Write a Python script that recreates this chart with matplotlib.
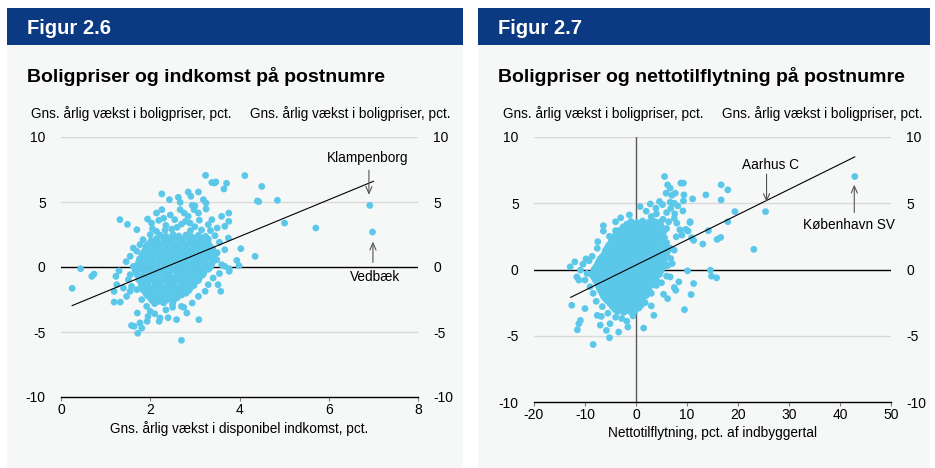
import matplotlib.pyplot as plt
from matplotlib.patches import Rectangle

plt.rcParams['font.family'] = ['Liberation Sans', 'DejaVu Sans']
plt.rcParams['axes.unicode_minus'] = False

# ============================================================
# Data: Figur 2.6  (x = indkomstvaekst, y = boligprisvaekst)
# ============================================================
core_26 = [
    (2.22, 2.45), (2.36, 2.35), (2.51, 2.5), (2.64, 2.38), (2.8, 2.46), (2.93, 2.33), (3.08, 2.44), (3.24, 2.36),
    (2.02, 2.02), (2.16, 1.95), (2.31, 2.06), (2.45, 1.98), (2.6, 2.04), (2.74, 1.94), (2.9, 2.05), (3.04, 1.97), (3.19, 2.03),
    (1.91, 1.62), (2.06, 1.55), (2.2, 1.66), (2.35, 1.58), (2.5, 1.63), (2.64, 1.54), (2.79, 1.65), (2.95, 1.57), (3.09, 1.64), (3.24, 1.56),
    (1.86, 1.18), (2.0, 1.24), (2.15, 1.15), (2.3, 1.22), (2.44, 1.17), (2.6, 1.25), (2.74, 1.16), (2.9, 1.23), (3.04, 1.14), (3.2, 1.21), (3.34, 1.18),
    (1.81, 0.82), (1.95, 0.76), (2.1, 0.85), (2.25, 0.78), (2.4, 0.83), (2.55, 0.75), (2.7, 0.84), (2.85, 0.77), (3.0, 0.82), (3.15, 0.76), (3.3, 0.84),
    (1.74, 0.38), (1.9, 0.44), (2.04, 0.35), (2.2, 0.42), (2.34, 0.37), (2.5, 0.45), (2.64, 0.36), (2.8, 0.43), (2.95, 0.38), (3.1, 0.44), (3.25, 0.36), (3.4, 0.41),
    (1.7, 0.03), (1.84, -0.04), (2.0, 0.05), (2.14, -0.02), (2.3, 0.04), (2.44, -0.05), (2.6, 0.02), (2.74, -0.03), (2.9, 0.05), (3.04, -0.04), (3.2, 0.03), (3.35, -0.02),
    (1.69, -0.42), (1.85, -0.36), (1.99, -0.45), (2.15, -0.38), (2.3, -0.43), (2.44, -0.35), (2.6, -0.44), (2.75, -0.37), (2.9, -0.42), (3.05, -0.36), (3.2, -0.44),
    (1.75, -0.78), (1.9, -0.84), (2.05, -0.76), (2.2, -0.83), (2.35, -0.77), (2.5, -0.85), (2.65, -0.79), (2.8, -0.82), (2.95, -0.76), (3.1, -0.84),
    (1.8, -1.22), (1.95, -1.16), (2.1, -1.25), (2.25, -1.18), (2.4, -1.23), (2.55, -1.15), (2.7, -1.24), (2.85, -1.17), (3.0, -1.21),
    (1.86, -1.58), (2.0, -1.65), (2.15, -1.56), (2.3, -1.63), (2.45, -1.57), (2.6, -1.64), (2.75, -1.55), (2.9, -1.62),
    (1.9, -2.03), (2.05, -1.96), (2.2, -2.05), (2.35, -1.98), (2.5, -2.04), (2.65, -1.95), (2.8, -2.02),
    (2.0, -2.38), (2.15, -2.45), (2.3, -2.36), (2.45, -2.43), (2.6, -2.37),
    (2.1, -2.82), (2.3, -2.76), (2.5, -2.84),
]
fill_26 = [
    (2.14, 2.18), (2.29, 2.24), (2.44, 2.16), (2.58, 2.22), (2.72, 2.15), (2.87, 2.23), (3.01, 2.17), (3.16, 2.21), (3.3, 2.14),
    (1.96, 1.78), (2.1, 1.84), (2.26, 1.76), (2.4, 1.83), (2.55, 1.77), (2.7, 1.85), (2.84, 1.75), (3.0, 1.82), (3.14, 1.78), (3.3, 1.84),
    (1.9, 1.42), (2.05, 1.36), (2.2, 1.44), (2.35, 1.37), (2.5, 1.43), (2.66, 1.35), (2.8, 1.44), (2.96, 1.38), (3.1, 1.42), (3.26, 1.36), (3.4, 1.4),
    (1.82, 0.98), (1.97, 1.04), (2.12, 0.96), (2.27, 1.03), (2.42, 0.97), (2.57, 1.05), (2.72, 0.95), (2.87, 1.02), (3.02, 0.98), (3.17, 1.04), (3.32, 0.96), (3.46, 1.0),
    (1.76, 0.62), (1.9, 0.56), (2.06, 0.64), (2.2, 0.57), (2.36, 0.63), (2.5, 0.55), (2.66, 0.64), (2.8, 0.58), (2.96, 0.62), (3.1, 0.56), (3.26, 0.64), (3.4, 0.6),
    (1.72, 0.18), (1.86, 0.24), (2.02, 0.16), (2.16, 0.22), (2.32, 0.15), (2.46, 0.24), (2.62, 0.17), (2.76, 0.23), (2.92, 0.16), (3.06, 0.22), (3.22, 0.18), (3.38, 0.24),
    (1.66, -0.22), (1.8, -0.16), (1.96, -0.24), (2.1, -0.18), (2.26, -0.23), (2.4, -0.15), (2.56, -0.24), (2.7, -0.17), (2.86, -0.22), (3.0, -0.16), (3.16, -0.24), (3.3, -0.18),
    (1.7, -0.58), (1.84, -0.64), (2.0, -0.56), (2.14, -0.63), (2.3, -0.57), (2.44, -0.65), (2.6, -0.58), (2.74, -0.62), (2.9, -0.56), (3.04, -0.64), (3.18, -0.6),
    (1.74, -0.98), (1.88, -1.04), (2.04, -0.96), (2.18, -1.03), (2.34, -0.97), (2.48, -1.05), (2.64, -0.98), (2.78, -1.02), (2.94, -0.96), (3.08, -1.04),
    (1.8, -1.42), (1.94, -1.36), (2.1, -1.44), (2.24, -1.37), (2.4, -1.43), (2.54, -1.35), (2.7, -1.44), (2.84, -1.38), (2.98, -1.42),
    (1.84, -1.78), (1.98, -1.84), (2.14, -1.76), (2.28, -1.83), (2.44, -1.77), (2.58, -1.85), (2.72, -1.78), (2.86, -1.82),
    (1.94, -2.22), (2.1, -2.16), (2.24, -2.24), (2.4, -2.17), (2.54, -2.23), (2.7, -2.16),
    (2.04, -2.58), (2.2, -2.64), (2.36, -2.56), (2.52, -2.62),
]
outer_26 = [
    (0.25, -1.64), (0.44, -0.13), (0.69, -0.72), (0.74, -0.54), (1.19, -2.7), (1.33, -2.7), (1.19, -1.87),
    (1.23, -0.72), (1.30, -0.30), (1.32, 3.64), (1.49, 3.28), (1.46, 0.41), (1.70, 2.87), (1.58, -4.5),
    (1.64, -4.56), (1.72, -5.1), (1.71, -3.54), (1.77, -4.3), (1.81, -4.7), (1.93, -4.18), (2.26, 5.62),
    (2.43, 5.18), (2.63, 5.36), (2.67, 4.97), (2.85, 5.77), (2.91, 5.44), (3.08, 5.77), (3.19, 5.18),
    (2.94, 4.74), (2.98, 4.41), (2.14, 4.15), (2.26, 4.41), (2.67, 4.41), (2.76, 4.15), (3.08, 4.15),
    (3.25, 4.46), (1.94, 3.69), (2.19, 3.59), (2.03, 3.38), (2.55, 3.64), (2.79, 3.51), (2.89, 3.38),
    (3.38, 3.64), (3.30, 3.26), (3.25, 4.92), (3.67, 3.13), (3.76, 3.51), (3.76, 4.15), (3.60, 3.90),
    (3.45, 2.41), (3.75, 2.23), (3.67, 1.33), (3.34, 1.59), (3.49, 0.56), (3.60, 0.18), (3.67, 0.05),
    (3.41, -0.85), (3.30, -1.36), (3.23, -1.87), (3.08, -2.26), (2.94, -2.77), (2.82, -3.54), (2.59, -4.05),
    (2.22, -3.92), (2.20, -4.18), (2.0, -3.41), (1.92, -3.03), (1.81, -2.51), (1.70, -1.74), (1.58, -1.49),
    (1.51, -0.97), (1.55, -0.59), (1.62, 0.05), (1.55, 0.82), (1.70, 1.21), (1.62, 1.46), (1.77, 1.72),
    (1.84, 2.1), (2.0, 2.49), (2.14, 2.74), (2.33, 2.82), (2.48, 2.92), (1.40, -1.62), (1.47, -2.26),
    (1.25, -1.36), (1.55, -1.87), (3.24, 7.05), (3.38, 6.5), (3.44, 6.46), (3.47, 6.54), (3.71, 6.44),
    (3.65, 6.0), (4.12, 7.03), (4.5, 6.2), (4.4, 5.08), (4.43, 5.03), (4.85, 5.13), (5.01, 3.38),
    (5.71, 3.0), (6.92, 4.74), (6.98, 2.69), (4.03, 1.41), (4.35, 0.82), (3.94, 0.51), (3.99, 0.10),
    (3.77, -0.13), (3.77, -0.33), (3.58, -1.87), (3.52, -1.36), (3.09, -4.05), (2.70, -5.64), (2.70, -3.03),
    (2.35, 3.2), (2.6, 3.05), (2.7, 3.3), (3.0, 3.1), (3.15, 2.85), (2.45, 4.0), (2.85, 3.9), (3.1, 3.6),
    (2.3, 3.75), (2.05, 2.95), (3.35, 2.8), (3.5, 3.0), (2.9, 2.8), (3.0, 4.7), (2.35, -3.3), (2.5, -3.1),
    (2.1, -3.6), (2.75, -3.1), (2.4, -3.9), (1.95, -3.8), (3.55, 1.9), (3.5, 1.1), (3.55, -0.5),
]
line_26_x = [0.25, 7.0]
line_26_y = [-2.97, 6.59]

# ============================================================
# Data: Figur 2.7  (x = nettotilflytning, y = boligprisvaekst)
# ============================================================
core_27 = [
    (-1.0, 3.62), (0.2, 3.55), (1.3, 3.66), (2.5, 3.57), (3.6, 3.63), (4.8, 3.55),
    (-2.5, 3.22), (-1.3, 3.15), (-0.1, 3.25), (1.2, 3.17), (2.5, 3.23), (3.7, 3.14), (5.0, 3.21),
    (-3.5, 2.78), (-2.3, 2.84), (-1.0, 2.75), (0.3, 2.82), (1.5, 2.77), (2.8, 2.85), (4.0, 2.76), (5.4, 2.83),
    (-4.5, 2.42), (-3.2, 2.35), (-2.0, 2.44), (-0.8, 2.37), (0.5, 2.43), (1.7, 2.36), (3.0, 2.45), (4.2, 2.38), (5.6, 2.41),
    (-5.0, 1.97), (-3.8, 2.04), (-2.6, 1.95), (-1.4, 2.03), (-0.2, 1.96), (1.0, 2.05), (2.2, 1.97), (3.5, 2.02), (4.8, 1.95), (6.0, 2.03),
    (-5.6, 1.62), (-4.4, 1.55), (-3.2, 1.64), (-2.0, 1.57), (-0.8, 1.63), (0.4, 1.56), (1.6, 1.65), (2.9, 1.58), (4.1, 1.62), (5.4, 1.55), (6.6, 1.63),
    (-6.2, 1.18), (-5.0, 1.24), (-3.8, 1.15), (-2.6, 1.22), (-1.4, 1.17), (-0.2, 1.25), (1.0, 1.16), (2.2, 1.23), (3.5, 1.15), (4.7, 1.22), (6.0, 1.17),
    (-7.0, 0.82), (-5.8, 0.76), (-4.6, 0.85), (-3.4, 0.78), (-2.2, 0.83), (-1.0, 0.75), (0.2, 0.84), (1.4, 0.77), (2.6, 0.82), (3.9, 0.76), (5.1, 0.84),
    (-7.6, 0.38), (-6.4, 0.44), (-5.2, 0.35), (-4.0, 0.42), (-2.8, 0.37), (-1.6, 0.45), (-0.4, 0.36), (0.8, 0.43), (2.0, 0.38), (3.2, 0.44), (4.5, 0.36), (5.8, 0.41),
    (-8.2, 0.03), (-7.0, -0.04), (-5.8, 0.05), (-4.6, -0.02), (-3.4, 0.04), (-2.2, -0.05), (-1.0, 0.02), (0.2, -0.03), (1.4, 0.05), (2.6, -0.04), (3.8, 0.03), (5.0, -0.02),
    (-8.6, -0.42), (-7.4, -0.36), (-6.2, -0.45), (-5.0, -0.38), (-3.8, -0.43), (-2.6, -0.35), (-1.4, -0.44), (-0.2, -0.37), (1.0, -0.42), (2.2, -0.36), (3.4, -0.44), (4.6, -0.38),
    (-8.0, -0.78), (-6.8, -0.84), (-5.6, -0.76), (-4.4, -0.83), (-3.2, -0.77), (-2.0, -0.85), (-0.8, -0.79), (0.4, -0.82), (1.6, -0.76), (2.8, -0.84), (4.0, -0.8),
    (-7.4, -1.22), (-6.2, -1.16), (-5.0, -1.25), (-3.8, -1.18), (-2.6, -1.23), (-1.4, -1.15), (-0.2, -1.24), (1.0, -1.17), (2.2, -1.21), (3.4, -1.16),
    (-7.0, -1.58), (-5.8, -1.65), (-4.6, -1.56), (-3.4, -1.63), (-2.2, -1.57), (-1.0, -1.64), (0.2, -1.55), (1.4, -1.62), (2.6, -1.58),
    (-6.4, -2.03), (-5.2, -1.96), (-4.0, -2.05), (-2.8, -1.98), (-1.6, -2.04), (-0.4, -1.95), (0.8, -2.02), (2.0, -1.97),
    (-5.6, -2.38), (-4.4, -2.45), (-3.2, -2.36), (-2.0, -2.43), (-0.8, -2.37), (0.4, -2.44),
    (-4.6, -2.82), (-3.4, -2.76), (-2.2, -2.84), (-1.0, -2.78), (0.2, -2.81),
    (-3.6, -3.18), (-2.4, -3.24), (-1.2, -3.17),
]
fill_27 = [
    (-1.8, 3.42), (-0.6, 3.36), (0.7, 3.44), (1.9, 3.37), (3.1, 3.43), (4.3, 3.36),
    (-3.0, 2.98), (-1.7, 3.04), (-0.5, 2.96), (0.8, 3.03), (2.0, 2.97), (3.2, 3.05), (4.5, 2.96), (5.7, 3.02),
    (-4.0, 2.62), (-2.8, 2.56), (-1.5, 2.64), (-0.2, 2.57), (1.0, 2.63), (2.3, 2.55), (3.6, 2.64), (4.8, 2.58),
    (-4.8, 2.18), (-3.6, 2.24), (-2.4, 2.16), (-1.2, 2.23), (0.0, 2.17), (1.3, 2.25), (2.6, 2.16), (3.8, 2.22), (5.1, 2.18),
    (-5.4, 1.82), (-4.2, 1.76), (-3.0, 1.84), (-1.8, 1.77), (-0.6, 1.83), (0.6, 1.75), (1.9, 1.84), (3.1, 1.78), (4.4, 1.82), (5.6, 1.76),
    (-6.0, 1.42), (-4.8, 1.36), (-3.6, 1.44), (-2.4, 1.37), (-1.2, 1.43), (0.0, 1.35), (1.2, 1.44), (2.5, 1.38), (3.8, 1.42), (5.0, 1.36), (6.2, 1.4),
    (-6.6, 0.98), (-5.4, 1.04), (-4.2, 0.96), (-3.0, 1.03), (-1.8, 0.97), (-0.6, 1.05), (0.6, 0.95), (1.8, 1.02), (3.0, 0.98), (4.3, 1.04), (5.5, 0.96),
    (-7.3, 0.62), (-6.1, 0.56), (-4.9, 0.64), (-3.7, 0.57), (-2.5, 0.63), (-1.3, 0.55), (-0.1, 0.64), (1.1, 0.58), (2.3, 0.62), (3.5, 0.56), (4.8, 0.64),
    (-7.9, 0.18), (-6.7, 0.24), (-5.5, 0.16), (-4.3, 0.22), (-3.1, 0.15), (-1.9, 0.24), (-0.7, 0.17), (0.5, 0.23), (1.7, 0.16), (2.9, 0.22), (4.1, 0.18), (5.4, 0.24),
    (-8.4, -0.22), (-7.2, -0.16), (-6.0, -0.24), (-4.8, -0.18), (-3.6, -0.23), (-2.4, -0.15), (-1.2, -0.24), (0.0, -0.17), (1.2, -0.22), (2.4, -0.16), (3.6, -0.24), (4.8, -0.18),
    (-8.3, -0.58), (-7.1, -0.64), (-5.9, -0.56), (-4.7, -0.63), (-3.5, -0.57), (-2.3, -0.65), (-1.1, -0.58), (0.1, -0.62), (1.3, -0.56), (2.5, -0.64), (3.7, -0.6),
    (-7.7, -0.98), (-6.5, -1.04), (-5.3, -0.96), (-4.1, -1.03), (-2.9, -0.97), (-1.7, -1.05), (-0.5, -0.98), (0.7, -1.02), (1.9, -0.96), (3.1, -1.04),
    (-7.2, -1.42), (-6.0, -1.36), (-4.8, -1.44), (-3.6, -1.37), (-2.4, -1.43), (-1.2, -1.35), (0.0, -1.44), (1.2, -1.38), (2.4, -1.42),
    (-6.7, -1.78), (-5.5, -1.84), (-4.3, -1.76), (-3.1, -1.83), (-1.9, -1.77), (-0.7, -1.85), (0.5, -1.78), (1.7, -1.82),
    (-6.0, -2.22), (-4.8, -2.16), (-3.6, -2.24), (-2.4, -2.17), (-1.2, -2.23), (0.0, -2.16), (1.2, -2.2),
    (-5.1, -2.58), (-3.9, -2.64), (-2.7, -2.56), (-1.5, -2.62), (-0.3, -2.58),
    (-4.1, -3.02), (-2.9, -2.96), (-1.7, -3.04), (-0.5, -2.98),
]
outer_27 = [
    (42.9, 7.02), (25.4, 4.37), (23.1, 1.52), (19.4, 4.37), (18.0, 3.61), (18.0, 6.01), (16.7, 6.39),
    (16.7, 5.25), (16.6, 2.42), (15.9, 2.27), (13.7, 5.63), (13.1, 1.92), (14.2, 2.93), (11.1, 5.33),
    (10.6, 3.61), (10.9, 2.40), (10.1, -0.1), (11.3, -1.06), (10.8, -1.89), (9.5, -3.03), (14.6, -0.05),
    (14.8, -0.5), (15.8, -0.63), (8.4, -0.93), (7.8, -1.57), (7.5, -1.36), (6.7, -0.56), (6.2, -2.2),
    (5.4, -1.87), (3.5, -3.46), (3.0, -2.75), (1.5, -4.42), (1.0, -2.7), (-0.2, -3.16), (-1.6, -4.34),
    (-3.4, -4.72), (-5.2, -5.15), (-5.1, -4.09), (-5.8, -4.6), (-7.0, -4.2), (-8.4, -5.66), (-10.9, -3.84),
    (-11.2, -4.09), (-11.5, -4.55), (-10.0, -2.95), (-12.6, -2.7), (-12.9, 0.2), (-12.0, 0.58), (-10.9, -0.05),
    (-9.2, 0.66), (-10.0, -0.8), (-11.6, -0.56), (-7.6, -3.46), (-6.8, -3.54), (-7.5, 2.1), (-6.4, 3.31),
    (-5.7, 1.59), (-4.0, 2.93), (-3.4, 2.93), (-1.3, 4.12), (0.8, 4.75), (2.8, 4.95), (3.9, 4.62),
    (4.6, 5.13), (5.6, 7.02), (6.2, 6.39), (6.7, 6.14), (7.7, 5.76), (8.8, 6.52), (9.3, 6.52), (9.4, 5.63),
    (9.3, 5.18), (7.5, 5.0), (6.7, 5.08), (5.9, 5.76), (9.2, 4.42), (10.6, 3.54), (9.8, 3.03), (6.0, 3.1),
    (5.3, 3.79), (7.5, 3.86), (4.6, 3.56), (3.6, 3.36), (7.9, 2.47), (7.5, 1.46), (6.8, 0.83), (7.1, 0.45),
    (5.6, 0.76), (6.0, 4.3), (6.8, 4.6), (7.6, 4.2), (8.2, 4.8), (5.2, 4.9), (7.0, 5.6), (8.0, 3.5),
    (6.4, 3.6), (4.0, 4.2), (3.0, 4.0), (2.0, 4.4), (8.6, 3.0), (9.0, 2.6), (10.2, 2.9), (11.3, 2.2),
    (-9.0, -1.3), (-8.4, -1.8), (-7.8, -2.4), (-9.6, -0.3), (-10.4, 0.4), (-11.2, -0.8), (-6.6, -2.8),
    (-5.5, -3.3), (-4.0, -3.6), (-2.8, -3.7), (-1.8, -3.9), (-0.6, -3.5), (0.6, -2.9), (1.8, -2.5),
    (3.0, -1.8), (4.0, -1.2), (5.0, -1.0), (6.0, -0.5), (6.2, 0.3), (-6.4, 2.9), (-4.0, 3.6), (-3.0, 3.9),
    (-5.2, 2.5), (-7.6, 1.6), (-8.6, 1.0), (-9.8, 0.8),
]
line_27_x = [-12.8, 42.9]
line_27_y = [-2.1, 8.5]

y_ticks = [-10, -5, 0, 5, 10]
x_ticks_26 = [0, 2, 4, 6, 8]
x_ticks_27 = [-20, -10, 0, 10, 20, 30, 40, 50]

# ============================================================
# Farver / layout
# ============================================================
BLUE = '#0B3A82'
PANEL = '#F6F8F8'
DOT = '#5BC8EA'
GRID = '#D9D9D9'
ARROW = dict(arrowstyle='->,head_length=0.5,head_width=0.22', color='#555555',
             lw=0.8, shrinkA=0, shrinkB=0)
W, H = 935, 468

fig = plt.figure(figsize=(9.35, 4.68), dpi=100)
fig.patch.set_facecolor('white')


def px(x, y):
    return x / W, 1 - y / H


def panel(x0, x1, fig_label, title, ylab_l_x, ylab_r_x):
    # lys baggrund + blå header
    fig.add_artist(Rectangle((x0 / W, 0), (x1 - x0) / W, 1 - 45 / H,
                             transform=fig.transFigure, facecolor=PANEL,
                             edgecolor='none', zorder=0))
    fig.add_artist(Rectangle((x0 / W, 1 - 45 / H), (x1 - x0) / W, 37 / H,
                             transform=fig.transFigure, facecolor=BLUE,
                             edgecolor='none', zorder=0))
    fig.text(*px(x0 + 20, 28), fig_label, color='white', fontsize=14.5,
             fontweight='bold', va='center', ha='left')
    fig.text(*px(x0 + 20, 77), title, color='black', fontsize=14,
             fontweight='bold', va='center', ha='left')
    ylab = 'Gns. årlig vækst i boligpriser, pct.'
    fig.text(*px(ylab_l_x, 114), ylab, fontsize=9.8, va='center', ha='left')
    fig.text(*px(ylab_r_x, 114), ylab, fontsize=9.8, va='center', ha='right')


def style_axes(ax, xlim, xticks):
    ax.set_facecolor('none')
    ax.set_xlim(*xlim)
    ax.set_ylim(-10, 10)
    for s in ['left', 'right', 'top']:
        ax.spines[s].set_visible(False)
    ax.spines['bottom'].set_color('black')
    ax.spines['bottom'].set_linewidth(1.0)
    ax.set_yticks(y_ticks)
    ax.tick_params(axis='y', length=0, labelsize=10, left=False, right=False,
                   labelleft=True, labelright=True, pad=11)
    ax.set_xticks(xticks)
    ax.tick_params(axis='x', direction='out', length=3, color='#808080',
                   labelsize=10, pad=1.5)
    for yv in [5, -5, 10]:
        ax.axhline(yv, color=GRID, lw=1, zorder=1)
    ax.axhline(0, color='black', lw=1, zorder=1)


def label_arrow(ax, text, text_xy, start, end):
    ax.text(*text_xy, text, ha='center', va='center', fontsize=9.8, zorder=4)
    ax.annotate('', xy=end, xytext=start, arrowprops=ARROW, zorder=4)


# --- venstre panel: Figur 2.6 ---
panel(7, 463, 'Figur 2.6', 'Boligpriser og indkomst på postnumre', 31, 450)
ax1 = fig.add_axes([61 / W, 1 - 397 / H, 357 / W, 260 / H])
style_axes(ax1, (0, 8), x_ticks_26)
pts_26 = core_26 + fill_26 + outer_26
ax1.scatter([p[0] for p in pts_26], [p[1] for p in pts_26], s=24, color=DOT,
            edgecolors='none', zorder=2)
ax1.plot(line_26_x, line_26_y, color='black', lw=0.8, zorder=3)
ax1.set_xlabel('Gns. årlig vækst i disponibel indkomst, pct.', fontsize=9.8,
               labelpad=3)
label_arrow(ax1, 'Klampenborg', (6.88, 8.35), (6.9, 7.45), (6.9, 5.55))
label_arrow(ax1, 'Vedbæk', (7.04, -0.75), (6.99, 0.35), (6.99, 1.95))

# --- højre panel: Figur 2.7 ---
panel(478, 930, 'Figur 2.7', 'Boligpriser og nettotilflytning på postnumre', 503, 923)
ax2 = fig.add_axes([534 / W, 1 - 402 / H, 357 / W, 265 / H])
style_axes(ax2, (-20, 50), x_ticks_27)
ax2.axvline(0, color='#595959', lw=1, zorder=1)
pts_27 = core_27 + fill_27 + outer_27
ax2.scatter([p[0] for p in pts_27], [p[1] for p in pts_27], s=24, color=DOT,
            edgecolors='none', zorder=2)
ax2.plot(line_27_x, line_27_y, color='black', lw=0.8, zorder=3)
ax2.set_xlabel('Nettotilflytning, pct. af indbyggertal', fontsize=9.8,
               labelpad=3)
label_arrow(ax2, 'Aarhus C', (26.3, 7.85), (25.6, 7.2), (25.6, 5.1))
label_arrow(ax2, 'København SV', (41.8, 3.35), (42.8, 4.3), (42.8, 6.4))

plt.savefig('out.png', dpi=100, facecolor='white')
